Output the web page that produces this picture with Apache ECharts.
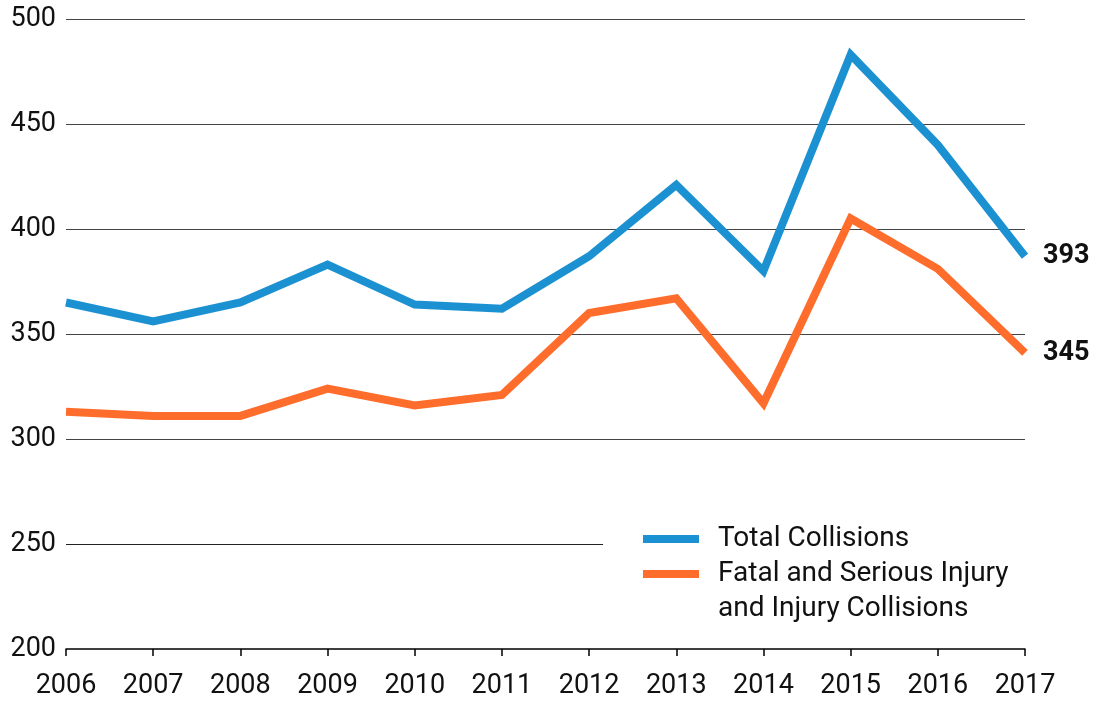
<!DOCTYPE html>
<html>
<head>
<meta charset="utf-8">
<script src="https://cdn.jsdelivr.net/npm/echarts@6/dist/echarts.min.js"></script>
<style>
  html, body { margin: 0; padding: 0; background: #fff; }
  #chart { width: 1098px; height: 705px; }
</style>
</head>
<body>
<div id="chart"></div>
<script>
const years = [2006, 2007, 2008, 2009, 2010, 2011, 2012, 2013, 2014, 2015, 2016, 2017];
const totalCollisions = [365, 356, 365, 383, 364, 362, 387, 421, 380, 483, 440, 387];
const injuryCollisions = [313, 311, 311, 324, 316, 321, 360, 367, 317, 405, 381, 341];
const endLabels = ['393', '345'];
const seriesNames = ['Total Collisions', 'Fatal and Serious Injury\nand Injury Collisions'];
const yTicks = [200, 250, 300, 350, 400, 450, 500];

const FONT = 'Roboto';
const TXT = '#111';

const chart = echarts.init(document.getElementById('chart'));

const pairs = (vals) => vals.map((v, i) => [years[i], v]);

const endLabel = (idx) => ({
    show: true,
    formatter: () => endLabels[idx],
    distance: 18,
    fontFamily: FONT,
    fontSize: 27,
    fontWeight: 'bold',
    color: TXT,
});

// one legend per series so the two-line name lines up its first line with the swatch
const legendFor = (name, formatter) => ({
    data: [name],
    formatter: formatter,
    left: 643,
    top: 521.5,
    orient: 'vertical',
    padding: 0,
    icon: 'rect',
    itemWidth: 56,
    itemHeight: 8,
    selectedMode: false,
    textStyle: { fontFamily: FONT, fontSize: 28, color: TXT, lineHeight: 35, padding: [0, 0, 0, 14] },
});

const option = {
    backgroundColor: '#fff',
    animation: false,
    grid: { left: 66, right: 73, top: 19, bottom: 56 },
    legend: [
        legendFor(seriesNames[0], (n) => n),
        legendFor(seriesNames[1], (n) => '\n' + n),
    ],
    xAxis: {
        type: 'value',
        min: years[0],
        max: years[years.length - 1],
        interval: 1,
        splitLine: { show: false },
        axisLine: { show: true, lineStyle: { color: '#000', width: 1.5 } },
        axisTick: { show: true, length: 7, lineStyle: { color: '#000', width: 1.5 } },
        axisLabel: {
            formatter: (v) => String(v),
            fontFamily: FONT,
            fontSize: 27,
            color: TXT,
            margin: 24,
        },
    },
    yAxis: {
        type: 'value',
        min: yTicks[0],
        max: yTicks[yTicks.length - 1],
        interval: 50,
        axisLine: { show: false },
        axisTick: { show: false },
        axisLabel: { fontFamily: FONT, fontSize: 27, color: TXT, margin: 10 },
        splitLine: {
            show: true,
            lineStyle: {
                color: ['transparent', 'transparent', '#444', '#444', '#444', '#444', '#444'],
                width: 1.2,
            },
        },
    },
    series: [
        {
            name: seriesNames[0],
            type: 'line',
            data: pairs(totalCollisions),
            showSymbol: false,
            symbol: 'none',
            z: 3,
            lineStyle: { color: '#1b91d1', width: 8, join: 'miter' },
            itemStyle: { color: '#1b91d1' },
            endLabel: endLabel(0),
            markLine: {
                silent: true,
                symbol: 'none',
                label: { show: false },
                lineStyle: { color: '#222', width: 1.2, type: 'solid' },
                data: [[{ coord: [years[0], yTicks[1]] }, { coord: [2012.16, yTicks[1]] }]],
            },
        },
        {
            name: seriesNames[1],
            type: 'line',
            data: pairs(injuryCollisions),
            showSymbol: false,
            symbol: 'none',
            z: 2,
            lineStyle: { color: '#fe6d2b', width: 8, join: 'miter' },
            itemStyle: { color: '#fe6d2b' },
            endLabel: endLabel(1),
        },
    ],
};

chart.setOption(option);
</script>
</body>
</html>
